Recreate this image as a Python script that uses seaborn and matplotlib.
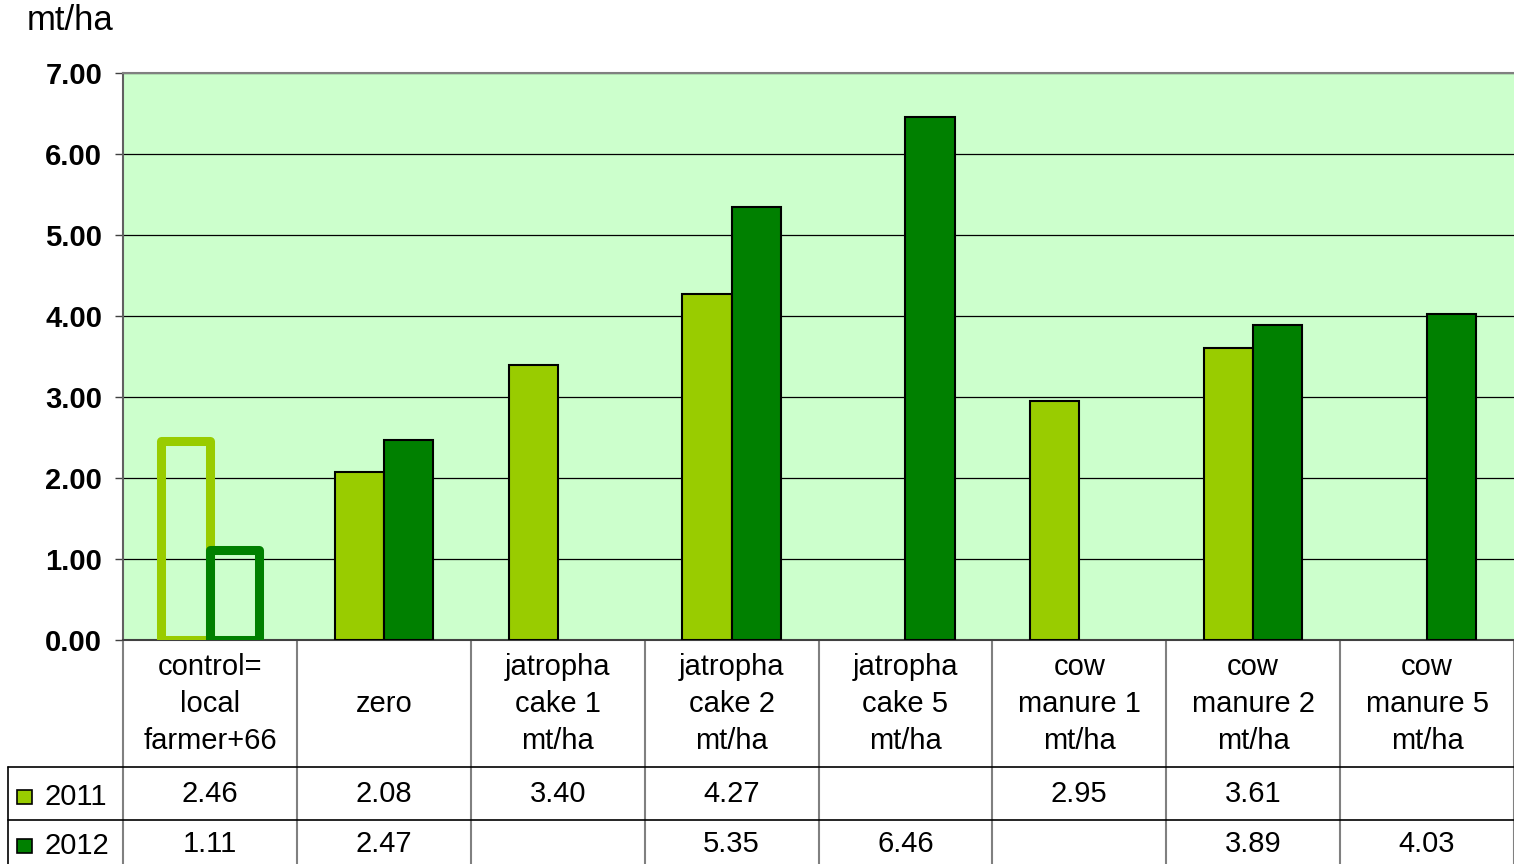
import numpy as np
import pandas as pd
import matplotlib
matplotlib.use("Agg")
import matplotlib.pyplot as plt
import matplotlib.transforms as mtransforms
from matplotlib.patches import Rectangle
import seaborn as sns

# Treatments and yields (mt/ha) per season
categories = ["control=\nlocal\nfarmer+66", "zero", "jatropha\ncake 1\nmt/ha",
              "jatropha\ncake 2\nmt/ha", "jatropha\ncake 5\nmt/ha",
              "cow\nmanure 1\nmt/ha", "cow\nmanure 2\nmt/ha", "cow\nmanure 5\nmt/ha"]
years = ["2011", "2012"]
yield_2011 = [2.46, 2.08, 3.40, 4.27, np.nan, 2.95, 3.61, np.nan]
yield_2012 = [1.11, 2.47, np.nan, 5.35, 6.46, np.nan, 3.89, 4.03]
y_ticks = [0, 1, 2, 3, 4, 5, 6, 7]

colors = {"2011": "#99CC00", "2012": "#008000"}
plot_bg = "#CCFFCC"

rows = []
for cat, a, b in zip(categories, yield_2011, yield_2012):
    rows.append({"treatment": cat, "year": "2011", "yield": a})
    rows.append({"treatment": cat, "year": "2012", "yield": b})
df = pd.DataFrame(rows)

sns.set_theme(style="white")
plt.rcParams["font.family"] = ["Liberation Sans", "DejaVu Sans"]
plt.rcParams["text.color"] = "black"
plt.rcParams["ytick.color"] = "black"
plt.rcParams["ytick.labelcolor"] = "black"

W, H = 1514, 864
fig = plt.figure(figsize=(W / 100, H / 100), dpi=100)
ax = fig.add_axes([123 / W, 1 - 640 / H, (W - 123) / W, 567 / H])
ax.set_facecolor(plot_bg)

sns.barplot(data=df.dropna(), x="treatment", y="yield", hue="year",
            order=categories, hue_order=years, palette=colors, saturation=1,
            width=0.565, errorbar=None, legend=False,
            edgecolor="black", linewidth=1.5, ax=ax, zorder=3)

# Control treatment is drawn as outlined bars only
for p in ax.patches:
    cx = p.get_x() + p.get_width() / 2
    if -0.5 < cx < 0.5:
        fc = p.get_facecolor()
        p.set_facecolor("none")
        p.set_edgecolor(fc)
        p.set_linewidth(6.5)
        p.set_joinstyle("round")

ax.set_xlim(-0.5, len(categories) - 0.5)
ax.set_ylim(0, 7)
ax.set_yticks(y_ticks)
ax.set_yticklabels([f"{v:.2f}" for v in y_ticks], fontsize=21, fontweight="bold")
ax.tick_params(axis="y", length=6, width=1, color="#404040", pad=9, left=True)
ax.set_xticks([])
ax.set_xlabel("")
ax.set_ylabel("")
ax.grid(axis="y", color="black", linewidth=0.9, zorder=0)
ax.set_axisbelow(True)
ax.spines["right"].set_visible(False)
ax.spines["top"].set_color("#808080")
ax.spines["top"].set_linewidth(1.5)
ax.spines["left"].set_color("#606060")
ax.spines["left"].set_linewidth(1.5)
ax.spines["bottom"].set_color("#404040")
ax.spines["bottom"].set_linewidth(1.5)

fig.text(27 / W, 1 - 20 / H, "mt/ha", fontsize=25, ha="left", va="center")

# Data table beneath the plot
trans = mtransforms.blended_transform_factory(ax.transData, ax.transAxes)
def ay(px):
    return (640 - px) / 567

y_head_bottom = ay(767)
y_row1_bottom = ay(820)
y_end = ay(900)

for i in range(len(categories) + 1):
    x = i - 0.5
    ax.plot([x, x], [0, y_end], transform=trans, color="#808080",
            linewidth=1.5, clip_on=False)

cat_px = (W - 123) / len(categories)
left_edge = -0.5 - (123 - 8) / cat_px
for yv in [y_head_bottom, y_row1_bottom]:
    ax.plot([left_edge, len(categories) - 0.5], [yv, yv], transform=trans,
            color="black", linewidth=1.2, clip_on=False)
ax.plot([left_edge, left_edge], [y_head_bottom, y_end], transform=trans,
        color="black", linewidth=1.2, clip_on=False)

for i, cat in enumerate(categories):
    ax.text(i, ay(704), cat, transform=trans, ha="center", va="center",
            fontsize=21, linespacing=1.42, clip_on=False)

for row_y, vals in [(ay(794), yield_2011), (ay(844), yield_2012)]:
    for i, v in enumerate(vals):
        if not np.isnan(v):
            ax.text(i, row_y, f"{v:.2f}", transform=trans, ha="center",
                    va="center", fontsize=21, clip_on=False)

# Legend keys inside the table
for yr, row_px in [("2011", 797), ("2012", 846)]:
    fig.patches.append(Rectangle((17 / W, 1 - (row_px + 7) / H), 15 / W, 14 / H,
                                 transform=fig.transFigure, facecolor=colors[yr],
                                 edgecolor="black", linewidth=1.2))
    fig.text(44 / W, 1 - row_px / H, yr, fontsize=21, ha="left", va="center")

fig.savefig("out.png", dpi=100)
